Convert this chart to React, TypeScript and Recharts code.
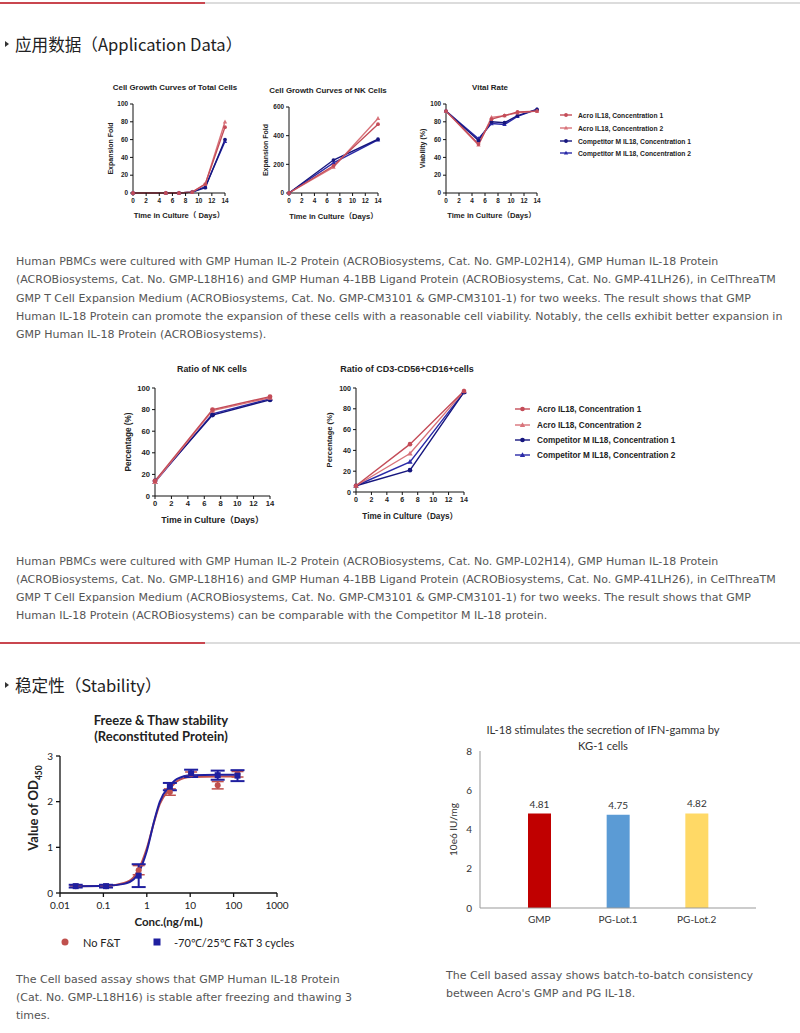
import { LineChart, Line, XAxis, YAxis, BarChart, Bar, Cell, LabelList, ErrorBar } from 'recharts'

// ---- Cell growth, total cells
const totalDays = [0, 5, 7, 9, 11, 14]
const totalAcro1 = [0, 0, 0, 1, 10, 74]
const totalAcro2 = [0, 0, 0, 1, 10, 80]
const totalComp1 = [0, 0, 0, 1, 6, 60]
const totalComp2 = [0, 0, 0, 1, 7, 58]

// ---- Cell growth, NK cells
const nkDays = [0, 7, 14]
const nkAcro1 = [0, 190, 480]
const nkAcro2 = [0, 180, 520]
const nkComp1 = [0, 230, 375]
const nkComp2 = [0, 210, 370]

// ---- Vital rate
const vitalDays = [0, 5, 7, 9, 11, 14]
const vitalAcro1 = [92, 55, 83, 87, 91, 92]
const vitalAcro2 = [92, 54, 85, 87, 90, 92]
const vitalComp1 = [92, 59, 80, 79, 87, 94]
const vitalComp2 = [92, 61, 78, 77, 86, 94]

// ---- Ratio of NK cells / CD3-CD56+CD16+
const ratioDays = [0, 7, 14]
const ratioNkAcro1 = [14, 80, 92]
const ratioNkAcro2 = [13, 79, 91]
const ratioNkComp1 = [14, 75, 89]
const ratioNkComp2 = [13, 76, 90]
const cd16Acro1 = [6, 46, 97]
const cd16Acro2 = [6, 37, 97]
const cd16Comp1 = [6, 21, 96]
const cd16Comp2 = [6, 29, 96]

const dayTicks = [0, 2, 4, 6, 8, 10, 12, 14]
const pctTicks = [0, 20, 40, 60, 80, 100]
const foldTicks = [0, 200, 400, 600]

// ---- Freeze & thaw
const concPoints = [0.023, 0.115, 0.65, 3.4, 10.5, 43, 123]
const noFtOd = [0.15, 0.15, 0.5, 2.21, 2.6, 2.36, 2.6]
const noFtErr = [0.02, 0.02, 0.1, 0.07, 0.05, 0.08, 0.06]
const ftOd = [0.15, 0.15, 0.38, 2.33, 2.62, 2.58, 2.57]
const ftErr = [0.03, 0.03, 0.25, 0.08, 0.08, 0.1, 0.12]
const fitConc = [0.023, 0.115, 0.3, 0.5, 0.65, 1, 1.5, 2, 3.4, 5, 10.5, 43, 123]
const noFtFit = [0.15, 0.16, 0.22, 0.35, 0.52, 0.98, 1.58, 1.95, 2.28, 2.45, 2.54, 2.55, 2.55]
const ftFit = [0.15, 0.16, 0.2, 0.3, 0.45, 0.92, 1.6, 2.0, 2.35, 2.5, 2.58, 2.59, 2.59]
const concTicks = [0.01, 0.1, 1, 10, 100, 1000]
const odTicks = [0, 1, 2, 3]

// ---- IFN-gamma bars
const lots = ['GMP', 'PG-Lot.1', 'PG-Lot.2']
const lotValues = [4.81, 4.75, 4.82]
const lotColors = ['#c00000', '#5b9bd5', '#ffd966']
const iuTicks = [0, 2, 4, 6, 8]

const SERIES = [
  { key: 'c2', name: 'Competitor M IL18, Concentration 2', color: '#2a2aa8', shape: 'triangle' },
  { key: 'c1', name: 'Competitor M IL18, Concentration 1', color: '#16167e', shape: 'circle' },
  { key: 'a2', name: 'Acro IL18, Concentration 2', color: '#d8737a', shape: 'triangle' },
  { key: 'a1', name: 'Acro IL18, Concentration 1', color: '#c44c58', shape: 'circle' },
]
const LEGEND_ORDER = ['a1', 'a2', 'c1', 'c2']

const buildRows = (days: number[], a1: number[], a2: number[], c1: number[], c2: number[]) =>
  days.map((d, i) => ({ day: d, a1: a1[i], a2: a2[i], c1: c1[i], c2: c2[i] }))

const marker = (shape: string, color: string, r: number, cx: number, cy: number, key?: string) => {
  if (shape === 'triangle')
    return <path key={key} d={`M${cx},${cy - r * 1.25}L${cx + r * 1.15},${cy + r * 0.85}L${cx - r * 1.15},${cy + r * 0.85}Z`} fill={color} />
  if (shape === 'square') return <rect key={key} x={cx - r} y={cy - r} width={r * 2} height={r * 2} fill={color} />
  return <circle key={key} cx={cx} cy={cy} r={r} fill={color} />
}

const dotFn = (shape: string, color: string, r: number) => (p: any) => {
  if (p.cx == null || p.cy == null || p.value == null) return <g key={`e${p.index}`} />
  return marker(shape, color, r, p.cx, p.cy, `d${p.index}`)
}

function SmallChart(props: any) {
  const { left, top, width, height, yW, xH, rows, yDomain, yTicks, xLabel, yLabel, fs, lfs, xOff, yOff, r } = props
  const tick = { fontSize: fs, fill: '#222', fontWeight: 700 }
  return (
    <div style={{ position: 'absolute', left, top, fontFamily: '"Liberation Sans", Arial, "Noto Sans CJK SC", sans-serif' }}>
      <LineChart width={width} height={height} data={rows} margin={{ top: 4, right: 10, left: 0, bottom: 0 }}>
        <XAxis dataKey="day" type="number" domain={[0, 14]} ticks={dayTicks} height={xH} interval={0}
          axisLine={{ stroke: '#111', strokeWidth: 1 }} tickLine={{ stroke: '#111' }} tickSize={3} tick={tick}
          label={{ value: xLabel, position: 'insideBottom', offset: xOff, fontSize: lfs, fontWeight: 700, fill: '#222' }} />
        <YAxis type="number" domain={yDomain} ticks={yTicks} width={yW} interval={0}
          axisLine={{ stroke: '#111', strokeWidth: 1 }} tickLine={{ stroke: '#111' }} tickSize={3} tick={tick}
          label={{ value: yLabel, angle: -90, position: 'insideLeft', offset: yOff, fontSize: lfs - 0.6, fontWeight: 700, fill: '#222', style: { textAnchor: 'middle' } }} />
        {SERIES.map(s => (
          <Line key={s.key} dataKey={s.key} type="linear" stroke={s.color} strokeWidth={1.4}
            dot={dotFn(s.shape, s.color, r)} activeDot={false} isAnimationActive={false} />
        ))}
      </LineChart>
    </div>
  )
}

function SeriesLegend({ x, ys, lineW, textX, fs, r }: any) {
  return (
    <>
      {LEGEND_ORDER.map((k, i) => {
        const s = SERIES.find(q => q.key === k)!
        return (
          <div key={k}>
            <svg style={{ position: 'absolute', left: x, top: ys[i] - 5 }} width={lineW} height={10}>
              <line x1={0} x2={lineW} y1={5} y2={5} stroke={s.color} strokeWidth={1.4} />
              {marker(s.shape, s.color, r, lineW / 2, 5)}
            </svg>
            <div style={{ position: 'absolute', left: textX, top: ys[i], transform: 'translateY(-50%)', fontSize: fs, fontWeight: 700, color: '#222', whiteSpace: 'nowrap', fontFamily: '"Liberation Sans", Arial, sans-serif' }}>
              {s.name}
            </div>
          </div>
        )
      })}
    </>
  )
}

const T = ({ x, y, size, weight = 400, color = '#222', family, anchor = 'middle', children }: any) => (
  <div style={{
    position: 'absolute', left: x, top: y, whiteSpace: 'nowrap', fontSize: size, fontWeight: weight, color,
    fontFamily: family, lineHeight: 1, transform: anchor === 'middle' ? 'translate(-50%,-50%)' : 'translateY(-50%)',
  }}>{children}</div>
)

const PARA = '"DejaVu Sans", Verdana, sans-serif'
const CHART_FONT = '"Liberation Sans", Arial, sans-serif'
const HEAD_FONT = '"Noto Sans CJK SC", sans-serif'
const CAL = 'Lato, "Liberation Sans", sans-serif'

const para1 = [
  'Human PBMCs were cultured with GMP Human IL-2 Protein (ACROBiosystems, Cat. No. GMP-L02H14), GMP Human IL-18 Protein',
  '(ACROBiosystems, Cat. No. GMP-L18H16) and GMP Human 4-1BB Ligand Protein (ACROBiosystems, Cat. No. GMP-41LH26), in CelThreaTM',
  'GMP T Cell Expansion Medium (ACROBiosystems, Cat. No. GMP-CM3101 & GMP-CM3101-1) for two weeks. The result shows that GMP',
  'Human IL-18 Protein can promote the expansion of these cells with a reasonable cell viability. Notably, the cells exhibit better expansion in',
  'GMP Human IL-18 Protein (ACROBiosystems).',
]
const para2 = [
  'Human PBMCs were cultured with GMP Human IL-2 Protein (ACROBiosystems, Cat. No. GMP-L02H14), GMP Human IL-18 Protein',
  '(ACROBiosystems, Cat. No. GMP-L18H16) and GMP Human 4-1BB Ligand Protein (ACROBiosystems, Cat. No. GMP-41LH26), in CelThreaTM',
  'GMP T Cell Expansion Medium (ACROBiosystems, Cat. No. GMP-CM3101 & GMP-CM3101-1) for two weeks. The result shows that GMP',
  'Human IL-18 Protein (ACROBiosystems) can be comparable with the Competitor M IL-18 protein.',
]
const para3 = [
  'The Cell based assay shows that GMP Human IL-18 Protein',
  '(Cat. No. GMP-L18H16) is stable after freezing and thawing 3',
  'times.',
]
const para4 = [
  'The Cell based assay shows batch-to-batch consistency',
  "between Acro's GMP and PG IL-18.",
]

const Para = ({ lines, x, y0, step }: any) => (
  <>
    {lines.map((l: string, i: number) => (
      <T key={i} x={x} y={y0 + i * step} size={11} color="#555" family={PARA} anchor="start">{l}</T>
    ))}
  </>
)

const Rule = ({ y }: any) => (
  <>
    <div style={{ position: 'absolute', left: 0, top: y, width: 800, height: 2, background: '#dcdcdc' }} />
    <div style={{ position: 'absolute', left: 0, top: y, width: 205, height: 2, background: '#c9464f' }} />
  </>
)

const Heading = ({ y, text }: any) => (
  <>
    <div style={{ position: 'absolute', left: 5, top: y - 3, width: 0, height: 0, borderTop: '3px solid transparent', borderBottom: '3px solid transparent', borderLeft: '4px solid #333' }} />
    <T x={15} y={y} size={16.6} color="#222" family={HEAD_FONT} anchor="start">{text}</T>
  </>
)

export default function App() {
  const totalRows = buildRows(totalDays, totalAcro1, totalAcro2, totalComp1, totalComp2)
  const nkRows = buildRows(nkDays, nkAcro1, nkAcro2, nkComp1, nkComp2)
  const vitalRows = buildRows(vitalDays, vitalAcro1, vitalAcro2, vitalComp1, vitalComp2)
  const ratioRows = buildRows(ratioDays, ratioNkAcro1, ratioNkAcro2, ratioNkComp1, ratioNkComp2)
  const cd16Rows = buildRows(ratioDays, cd16Acro1, cd16Acro2, cd16Comp1, cd16Comp2)

  const ftRows = fitConc.map((c, i) => {
    const p = concPoints.indexOf(c)
    return {
      conc: c,
      noFtFit: noFtFit[i],
      ftFit: ftFit[i],
      noFt: p >= 0 ? noFtOd[p] : null,
      noFtErr: p >= 0 ? noFtErr[p] : null,
      ft: p >= 0 ? ftOd[p] : null,
      ftErr: p >= 0 ? ftErr[p] : null,
    }
  })
  const barRows = lots.map((n, i) => ({ name: n, value: lotValues[i] }))

  return (
    <div style={{ position: 'relative', width: 800, height: 1033, overflow: 'hidden', background: '#fff' }}>
      <style>{'body{margin:0}'}</style>

      <Rule y={2} />
      <Heading y={44} text="应用数据（Application Data）" />

      {/* row 1 */}
      <T x={175} y={88} size={7.9} weight={700} family={CHART_FONT}>Cell Growth Curves of Total Cells</T>
      <SmallChart left={100} top={100} width={135} height={125} yW={33} xH={32} rows={totalRows}
        yDomain={[0, 100]} yTicks={pctTicks} xLabel="Time in Culture（ Days）" yLabel="Expansion Fold"
        fs={6.4} lfs={7.6} xOff={7} yOff={11} r={1.9} />
      <T x={328} y={91} size={7.9} weight={700} family={CHART_FONT}>Cell Growth Curves of NK Cells</T>
      <SmallChart left={255} top={103} width={133} height={122} yW={34} xH={32} rows={nkRows}
        yDomain={[0, 600]} yTicks={foldTicks} xLabel="Time in Culture（Days）" yLabel="Expansion Fold"
        fs={6.4} lfs={7.6} xOff={6} yOff={11} r={1.9} />
      <T x={490} y={88} size={7.9} weight={700} family={CHART_FONT}>Vital Rate</T>
      <SmallChart left={412} top={100} width={135} height={125} yW={34} xH={32} rows={vitalRows}
        yDomain={[0, 100]} yTicks={pctTicks} xLabel="Time in Culture（Days）" yLabel="Viability (%)"
        fs={6.4} lfs={7.6} xOff={7} yOff={11} r={1.9} />
      <SeriesLegend x={560} ys={[115, 128, 141, 153]} lineW={12} textX={578} fs={6.7} r={1.9} />

      <Para lines={para1} x={16} y0={261} step={18.3} />

      {/* row 2 */}
      <T x={212} y={369} size={8.8} weight={700} family={CHART_FONT}>Ratio of NK cells</T>
      <SmallChart left={115} top={384} width={165} height={144} yW={40} xH={32} rows={ratioRows}
        yDomain={[0, 100]} yTicks={pctTicks} xLabel="Time in Culture（Days）" yLabel="Percentage (%)"
        fs={7.6} lfs={8.8} xOff={5} yOff={13} r={2.4} />
      <T x={407} y={369} size={9} weight={700} family={CHART_FONT}>Ratio of CD3-CD56+CD16+cells</T>
      <SmallChart left={316} top={384} width={158} height={140} yW={40} xH={32} rows={cd16Rows}
        yDomain={[0, 100]} yTicks={pctTicks} xLabel="Time in Culture（Days）" yLabel="Percentage (%)"
        fs={7.1} lfs={8.2} xOff={5} yOff={13} r={2.3} />
      <SeriesLegend x={515} ys={[409, 425, 440, 455]} lineW={15} textX={537} fs={8.2} r={2.3} />

      <Para lines={para2} x={16} y0={561} step={18.1} />

      <Rule y={642} />
      <Heading y={685} text="稳定性（Stability）" />

      {/* freeze & thaw */}
      <T x={161} y={720} size={13} weight={700} family={CAL}>Freeze &amp; Thaw stability</T>
      <T x={161} y={736} size={13} weight={700} family={CAL}>(Reconstituted Protein)</T>
      <div style={{ position: 'absolute', left: 20, top: 750, fontFamily: CAL }}>
        <LineChart width={272} height={178} data={ftRows} margin={{ top: 6, right: 15, left: 0, bottom: 0 }}>
          <XAxis dataKey="conc" type="number" scale="log" domain={[0.01, 1000]} ticks={concTicks} allowDataOverflow
            tickFormatter={(v: number) => String(v)} height={35} interval={0} tickMargin={5}
            axisLine={{ stroke: '#111', strokeWidth: 1.3 }} tickLine={{ stroke: '#111', strokeWidth: 1.3 }} tickSize={4}
            tick={{ fontSize: 10, fill: '#222' }}
            label={{ value: 'Conc.(ng/mL)', position: 'insideBottom', offset: 2, fontSize: 11.5, fontWeight: 700, fill: '#222' }} />
          <YAxis type="number" domain={[0, 3]} ticks={odTicks} width={40} interval={0} tickMargin={3}
            axisLine={{ stroke: '#111', strokeWidth: 1.3 }} tickLine={{ stroke: '#111', strokeWidth: 1.3 }} tickSize={4}
            tick={{ fontSize: 10, fill: '#222' }} />
          <Line dataKey="noFtFit" type="monotone" stroke="#c0504d" strokeWidth={2} dot={false} activeDot={false} isAnimationActive={false} />
          <Line dataKey="ftFit" type="monotone" stroke="#1f1f9f" strokeWidth={2} dot={false} activeDot={false} isAnimationActive={false} />
          <Line dataKey="noFt" stroke="none" dot={dotFn('circle', '#c0504d', 3)} activeDot={false} isAnimationActive={false} connectNulls>
            <ErrorBar dataKey="noFtErr" width={6} strokeWidth={1.5} stroke="#c0504d" direction="y" />
          </Line>
          <Line dataKey="ft" stroke="none" dot={dotFn('square', '#1f1f9f', 3)} activeDot={false} isAnimationActive={false} connectNulls>
            <ErrorBar dataKey="ftErr" width={7} strokeWidth={2} stroke="#1f1f9f" direction="y" />
          </Line>
        </LineChart>
      </div>
      <div style={{ position: 'absolute', left: 35, top: 808, transform: 'translate(-50%,-50%) rotate(-90deg)', whiteSpace: 'nowrap', fontFamily: CAL, fontWeight: 700, fontSize: 13, color: '#222', lineHeight: 1 }}>
        Value of OD<sub style={{ fontSize: 8.5 }}>450</sub>
      </div>
      <svg style={{ position: 'absolute', left: 58, top: 935 }} width={14} height={14}>
        <circle cx={7} cy={7} r={3.5} fill="#c0504d" />
      </svg>
      <T x={83} y={942} size={11} family={CAL} anchor="start">No F&amp;T</T>
      <svg style={{ position: 'absolute', left: 150, top: 935 }} width={14} height={14}>
        <rect x={3.5} y={3.5} width={7} height={7} fill="#1f1f9f" />
      </svg>
      <T x={174} y={942} size={11} family={CAL} anchor="start">-70℃/25℃ F&amp;T 3 cycles</T>

      {/* IFN-gamma bars */}
      <T x={603} y={730} size={11.2} color="#333" family={CAL}>IL-18 stimulates the secretion of IFN-gamma by</T>
      <T x={603} y={746} size={11.2} color="#333" family={CAL}>KG-1 cells</T>
      <div style={{ position: 'absolute', left: 440, top: 745, fontFamily: CAL }}>
        <BarChart width={326} height={188} data={barRows} margin={{ top: 6, right: 10, left: 0, bottom: 0 }}>
          <XAxis dataKey="name" height={25} padding={{ left: 20, right: 20 }} axisLine={{ stroke: '#999' }} tickLine={false}
            tick={{ fontSize: 10, fill: '#333' }} interval={0} />
          <YAxis type="number" domain={[0, 8]} ticks={iuTicks} width={40} interval={0} axisLine={{ stroke: '#999' }} tickLine={false}
            tick={{ fontSize: 10, fill: '#333' }}
            label={{ value: '10e6 IU/mg', angle: -90, position: 'insideLeft', offset: 13, fontSize: 10, fill: '#333', style: { textAnchor: 'middle' } }} />
          <Bar dataKey="value" barSize={23} isAnimationActive={false}>
            {barRows.map((_, i) => <Cell key={i} fill={lotColors[i]} />)}
            <LabelList dataKey="value" position="top" offset={6} fontSize={10} fill="#333" formatter={(v: any) => Number(v).toFixed(2)} />
          </Bar>
        </BarChart>
      </div>

      <Para lines={para3} x={16} y0={979} step={18} />
      <Para lines={para4} x={446} y0={975} step={18} />
    </div>
  )
}
